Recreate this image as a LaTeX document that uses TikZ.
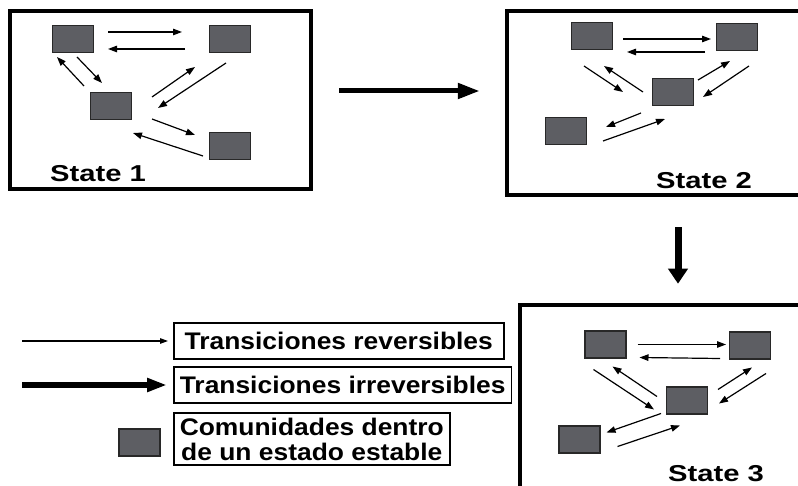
\documentclass[tikz,border=0pt]{standalone}
\usepackage{fontspec}
\setmainfont{Liberation Sans}
\usepackage{graphicx}
\usetikzlibrary{arrows.meta}
\definecolor{commfill}{RGB}{93,94,99}
\definecolor{commline}{RGB}{40,40,40}
\newcommand{\wide}[2]{\scalebox{#1}[1]{#2}}

\begin{document}
\begin{tikzpicture}[x=1pt,y=-1pt,
	comm/.style={draw=commline, line width=1.5pt, fill=commfill, minimum width=41pt, minimum height=27pt, inner sep=0pt},
	rev/.style={line width=1.2pt, -{Triangle[length=9pt,width=6.5pt]}},
	irrev/.style={line width=5pt, -{Triangle[length=22pt,width=15pt]}},
	statebox/.style={draw, line width=4.5pt, inner sep=0pt},
	statelabel/.style={font=\bfseries\fontsize{23}{24}\selectfont, anchor=base west, inner sep=0pt},
	legbox/.style={draw, line width=1.6pt, font=\bfseries\fontsize{24}{25}\selectfont, anchor=west, inner xsep=6pt, inner ysep=3pt, minimum height=36pt, align=center}]
		\useasboundingbox (0,0) rectangle (798,486);
		
		% state boxes
		\node[statebox, minimum width=301pt, minimum height=178pt] (box1) at (160.5,100) {};
		\node[statebox, minimum width=308pt, minimum height=184pt] (box2) at (661,103) {};
		\node[statebox, minimum width=295pt, minimum height=195pt] (box3) at (667.5,402.5) {};
		
		\draw[irrev] ([shift={(26,-9)}]box1.east) -- ([shift={(-25,-12)}]box2.west);
		\draw[line width=7pt, -{Triangle[length=15pt,width=19pt]}] ([shift={(17,30)}]box2.south) -- ([shift={(10.5,-19)}]box3.north);
		
		% state 1
		\node[comm] (a1) at (73,39) {};
		\node[comm] (b1) at (230,39) {};
		\node[comm] (c1) at (111,106) {};
		\node[comm] (d1) at (230,146) {};
		\draw[rev] ([shift={(35,-7)}]a1.center) -- ([shift={(-48,-7)}]b1.center);
		\draw[rev] ([shift={(-45,10)}]b1.center) -- ([shift={(35,10)}]a1.center);
		\draw[rev] ([shift={(4,18)}]a1.center) -- ([shift={(-9,-23)}]c1.center);
		\draw[rev] ([shift={(-27,-20)}]c1.center) -- ([shift={(-16,18)}]a1.center);
		\draw[rev] ([shift={(41,-9)}]c1.center) -- ([shift={(-35,28)}]b1.center);
		\draw[rev] ([shift={(-4,24)}]b1.center) -- ([shift={(47,2)}]c1.center);
		\draw[rev] ([shift={(41,13)}]c1.center) -- ([shift={(-35,-11)}]d1.center);
		\draw[rev] ([shift={(-27,10)}]d1.center) -- ([shift={(22,27)}]c1.center);
		\node[statelabel] (lab1) at (50,182) {\wide{1.27}{State 1}};
		
		% state 2
		\node[comm] (a2) at (592,36) {};
		\node[comm] (b2) at (737,37) {};
		\node[comm] (c2) at (673,92) {};
		\node[comm] (d2) at (566,131) {};
		\draw[rev] ([shift={(31,3)}]a2.center) -- ([shift={(-26,2)}]b2.center);
		\draw[rev] ([shift={(-32,15)}]b2.center) -- ([shift={(35,16)}]a2.center);
		\draw[rev] ([shift={(-8,30)}]a2.center) -- ([shift={(-50,0)}]c2.center);
		\draw[rev] ([shift={(-30,0)}]c2.center) -- ([shift={(12,30)}]a2.center);
		\draw[rev] ([shift={(25,-12)}]c2.center) -- ([shift={(-7,24)}]b2.center);
		\draw[rev] ([shift={(12,29)}]b2.center) -- ([shift={(30,5)}]c2.center);
		\draw[rev] ([shift={(-32,21)}]c2.center) -- ([shift={(40,-4)}]d2.center);
		\draw[rev] ([shift={(37,10)}]d2.center) -- ([shift={(-8,27)}]c2.center);
		\node[statelabel] (lab2) at (656,189) {\wide{1.27}{State 2}};
		
		% state 3
		\node[comm] (a3) at (605.5,344.5) {};
		\node[comm] (b3) at (750,345.5) {};
		\node[comm] (c3) at (687,400.5) {};
		\node[comm] (d3) at (579.5,439.5) {};
		\draw[rev] ([shift={(32,0)}]a3.center) -- ([shift={(-24,-1)}]b3.center);
		\draw[rev] ([shift={(-30,13)}]b3.center) -- ([shift={(34,13)}]a3.center);
		\draw[rev] ([shift={(-12,25)}]a3.center) -- ([shift={(-33,9)}]c3.center);
		\draw[rev] ([shift={(-30,-4)}]c3.center) -- ([shift={(7,22)}]a3.center);
		\draw[rev] ([shift={(31,-11)}]c3.center) -- ([shift={(2,22)}]b3.center);
		\draw[rev] ([shift={(16,28)}]b3.center) -- ([shift={(32,3)}]c3.center);
		\draw[rev] ([shift={(-26,13)}]c3.center) -- ([shift={(27,-7)}]d3.center);
		\draw[rev] ([shift={(38,7)}]d3.center) -- ([shift={(-7,25)}]c3.center);
		\node[statelabel] (lab3) at (668,481) {\wide{1.27}{State 3}};
		
		% legend
		\node[legbox, minimum width=330pt] (lbox1) at (173,341) {\wide{1.1}{Transiciones reversibles}};
		\node[legbox] (lbox2) at (173,385) {\wide{1.1}{Transiciones irreversibles}};
		\node[legbox, minimum height=52pt] (lbox3) at (173,439) {\wide{1.1}{Comunidades dentro}\\ \wide{1.1}{de un estado estable}};
		\node[comm] (lcomm) at (139.5,442.5) {};
		\coordinate (lrev) at (22,341);
		\coordinate (lirrev) at (22,385);
		\draw[rev, -{Triangle[length=8pt,width=5.5pt]}] (lrev) -- ([xshift=-5]lbox1.west);
		\draw[irrev, line width=5.5pt, -{Triangle[length=20pt,width=13pt]}] (lirrev) -- ([xshift=-6]lbox2.west);
		
	\end{tikzpicture}
\end{document}
